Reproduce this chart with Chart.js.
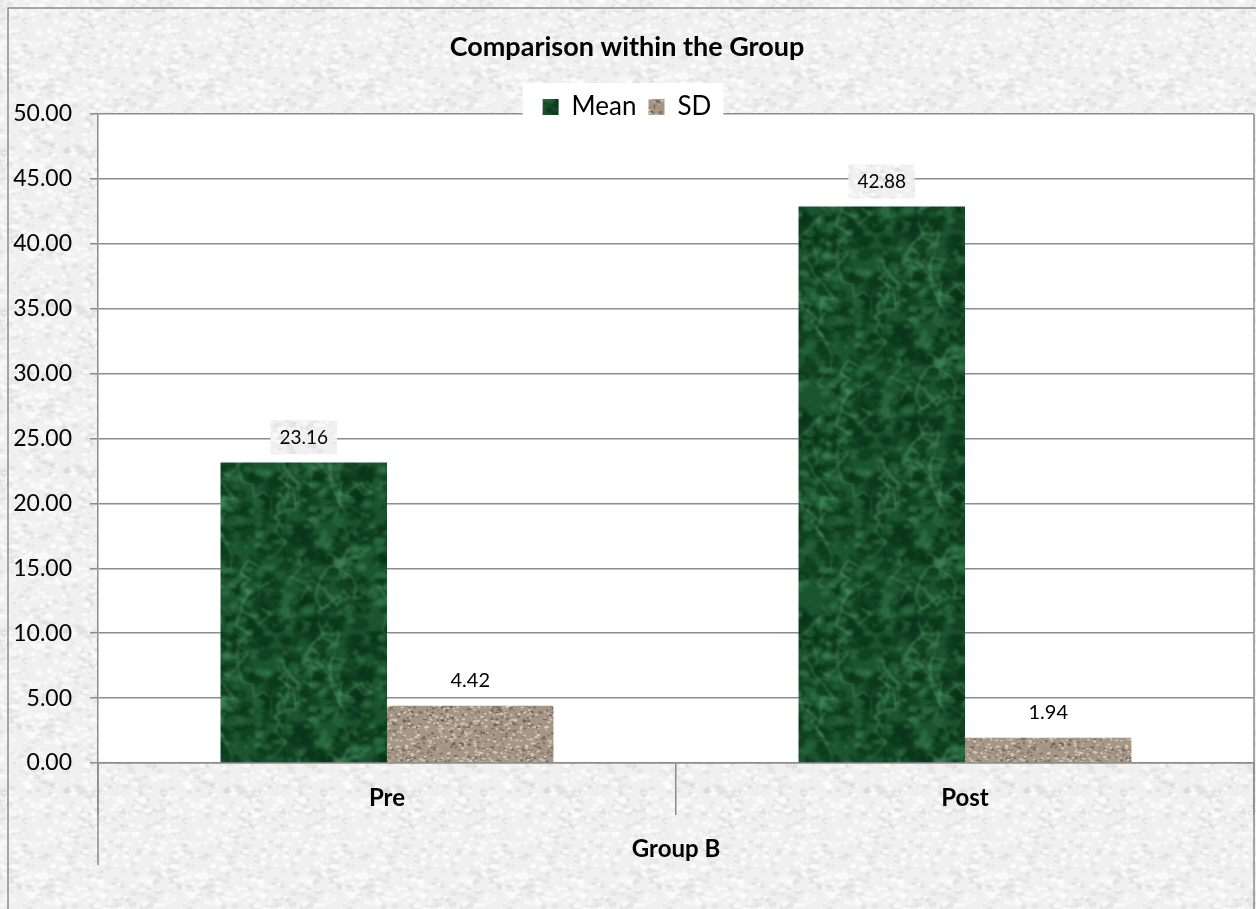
<!DOCTYPE html>
<html>
<head>
<meta charset="utf-8">
<script src="https://cdn.jsdelivr.net/npm/chart.js@4.4.1/dist/chart.umd.min.js"></script>
<style>
  body { margin: 0; background: #fff; }
  #wrap { width: 1256px; height: 909px; }
</style>
</head>
<body>
<div id="wrap"><canvas id="groupChart" width="1256" height="909"></canvas></div>
<script>
const chartTitle = 'Comparison within the Group';
const categories = ['Pre', 'Post'];
const groupLabel = 'Group B';
const seriesNames = ['Mean', 'SD'];
const meanValues = [23.16, 42.88];
const sdValues = [4.42, 1.94];
const yMin = 0, yMax = 50, yStep = 5;

// small seeded generator, only used for the surface textures
function rng(seed) {
    return function () {
        seed = seed + 0x6D2B79F5 | 0;
        let t = Math.imul(seed ^ seed >>> 15, 1 | seed);
        t = t + Math.imul(t ^ t >>> 7, 61 | t) ^ t;
        return ((t ^ t >>> 14) >>> 0) / 4294967296;
    };
}

// tile drawn once, repeated 3x3 and blurred in one pass, centre cut out -> no seams
function makeTexture(size, base, spots, veins, seed, blur) {
    const r = rng(seed);
    const raw = document.createElement('canvas');
    raw.width = raw.height = size;
    const g = raw.getContext('2d');
    g.fillStyle = base;
    g.fillRect(0, 0, size, size);
    spots.forEach(s => {
        g.fillStyle = s.color;
        g.globalAlpha = s.alpha;
        for (let i = 0; i < s.count; i++) {
            const x = r() * size, y = r() * size;
            const w = s.min + r() * (s.max - s.min);
            for (const dx of [-size, 0, size]) {
                for (const dy of [-size, 0, size]) {
                    g.beginPath();
                    g.ellipse(x + dx, y + dy, w, w * 0.7, 0, 0, Math.PI * 2);
                    g.fill();
                }
            }
        }
    });
    if (veins) {
        g.strokeStyle = veins.color;
        g.globalAlpha = veins.alpha;
        for (let i = 0; i < veins.count; i++) {
            let x = r() * size, y = r() * size;
            const pts = [[x, y]];
            for (let k = 0; k < 8; k++) {
                x += (r() - 0.5) * 26;
                y += (r() - 0.3) * 26;
                pts.push([x, y]);
            }
            g.lineWidth = 0.8 + r() * 1.5;
            for (const dx of [-size, 0, size]) {
                for (const dy of [-size, 0, size]) {
                    g.beginPath();
                    pts.forEach((p, k) => k ? g.lineTo(p[0] + dx, p[1] + dy) : g.moveTo(p[0] + dx, p[1] + dy));
                    g.stroke();
                }
            }
        }
    }
    g.globalAlpha = 1;

    const big = document.createElement('canvas');
    big.width = big.height = size * 3;
    const b = big.getContext('2d');
    if (blur) b.filter = 'blur(' + blur + 'px)';
    b.fillStyle = b.createPattern(raw, 'repeat');
    b.fillRect(0, 0, size * 3, size * 3);
    const tile = document.createElement('canvas');
    tile.width = tile.height = size;
    const t = tile.getContext('2d');
    t.drawImage(big, size, size, size, size, 0, 0, size, size);
    return t.createPattern(tile, 'repeat');
}

const paperTexture = makeTexture(160, '#f0f0f0', [
    { color: '#d8d8d8', alpha: 0.4, count: 420, min: 1, max: 4 },
    { color: '#fcfcfc', alpha: 0.7, count: 420, min: 1, max: 4 }
], null, 7, 0.6);

const marbleTexture = makeTexture(200, '#1b5430', [
    { color: '#083216', alpha: 0.5, count: 450, min: 2, max: 10 },
    { color: '#3f8c5a', alpha: 0.35, count: 350, min: 1, max: 6 }
], { color: '#79c596', alpha: 0.3, count: 30 }, 21, 1.2);

const granTexture = makeTexture(120, '#a69686', [
    { color: '#5e4e44', alpha: 0.5, count: 700, min: 0.6, max: 2 },
    { color: '#e2d8cc', alpha: 0.65, count: 700, min: 0.6, max: 2 }
], null, 33, 0.4);

const gridGrey = '#8c8c8c';
const fontFamily = 'Lato, "Noto Sans", sans-serif';

const chartDecor = {
    id: 'chartDecor',
    beforeDraw(chart) {
        const { ctx, chartArea: a, width, height } = chart;
        ctx.save();
        ctx.fillStyle = paperTexture;
        ctx.fillRect(0, 0, width, height);
        ctx.strokeStyle = gridGrey;
        ctx.lineWidth = 1.5;
        ctx.strokeRect(8, 8, width, height);
        ctx.fillStyle = '#fff';
        ctx.fillRect(a.left, a.top, a.right - a.left, a.bottom - a.top);
        ctx.restore();
    },
    afterDatasetsDraw(chart) {
        const ctx = chart.ctx;
        ctx.save();
        ctx.textAlign = 'center';
        ctx.textBaseline = 'middle';
        chart.data.datasets.forEach((ds, i) => {
            const boxed = i === 0;
            ctx.font = (boxed ? '19px ' : '20px ') + fontFamily;
            chart.getDatasetMeta(i).data.forEach((bar, j) => {
                const txt = ds.data[j].toFixed(2);
                const y = bar.y - 25;
                if (boxed) {
                    const w = ctx.measureText(txt).width + 18;
                    ctx.fillStyle = paperTexture;
                    ctx.fillRect(bar.x - w / 2, y - 17, w, 34);
                }
                ctx.fillStyle = '#000';
                ctx.fillText(txt, bar.x, y);
            });
        });
        ctx.restore();
    },
    afterDraw(chart) {
        const { ctx, chartArea: a, legend } = chart;
        ctx.save();
        // multi-level category lines
        ctx.strokeStyle = gridGrey;
        ctx.lineWidth = 1.5;
        ctx.beginPath();
        ctx.moveTo(a.left, a.bottom);
        ctx.lineTo(a.left, 865);
        ctx.moveTo(a.right, a.top);
        ctx.lineTo(a.right, chart.height);
        ctx.stroke();
        // legend panel over the top gridline
        const hb = legend.legendHitBoxes;
        const first = hb[0], last = hb[hb.length - 1];
        const x0 = first.left - 20, x1 = last.left + last.width + 12;
        ctx.fillStyle = '#fff';
        ctx.fillRect(x0, first.top - 11, x1 - x0, 34);
        ctx.restore();
        legend.bottom += 12;
        legend.draw();
        legend.bottom -= 12;
    }
};

const ctx = document.getElementById('groupChart').getContext('2d');

const groupChart = new Chart(ctx, {
    type: 'bar',
    data: {
        labels: categories,
        datasets: [{
            label: seriesNames[0],
            data: meanValues,
            backgroundColor: marbleTexture,
            borderWidth: 0
        }, {
            label: seriesNames[1],
            data: sdValues,
            backgroundColor: granTexture,
            borderWidth: 0
        }]
    },
    options: {
        responsive: false,
        maintainAspectRatio: false,
        animation: false,
        layout: { padding: { left: 0, right: 2, top: 0, bottom: 0 } },
        datasets: {
            bar: { barPercentage: 1, categoryPercentage: 0.576 }
        },
        plugins: {
            title: {
                display: true,
                text: chartTitle,
                color: '#000',
                font: { family: fontFamily, size: 27, weight: 'bold', lineHeight: 1.2 },
                padding: { top: 31, bottom: 18.6 }
            },
            legend: {
                display: true,
                position: 'top',
                maxHeight: 32,
                labels: {
                    color: '#000',
                    boxWidth: 16,
                    boxHeight: 16,
                    padding: 12,
                    font: { family: fontFamily, size: 26 }
                }
            },
            tooltip: { enabled: false }
        },
        scales: {
            y: {
                min: yMin,
                max: yMax,
                ticks: {
                    stepSize: yStep,
                    color: '#000',
                    padding: 18,
                    font: { family: fontFamily, size: 23 },
                    callback: v => v.toFixed(2)
                },
                grid: { color: gridGrey, lineWidth: 1.5, tickLength: 8 },
                border: { color: gridGrey, width: 1.5 },
                afterFit: s => { s.width = 98; }
            },
            x: {
                ticks: {
                    color: '#000',
                    padding: -31,
                    font: { family: fontFamily, size: 24, weight: 'bold' }
                },
                grid: { offset: true, drawOnChartArea: false, color: gridGrey, lineWidth: 1.5, tickLength: 52 },
                border: { color: gridGrey, width: 1.5 },
                title: {
                    display: true,
                    text: groupLabel,
                    color: '#000',
                    font: { family: fontFamily, size: 24, weight: 'bold', lineHeight: 1.2 },
                    padding: { top: 0, bottom: 45 }
                },
                afterFit: s => { s.height = 146; }
            }
        }
    },
    plugins: [chartDecor]
});
</script>
</body>
</html>
